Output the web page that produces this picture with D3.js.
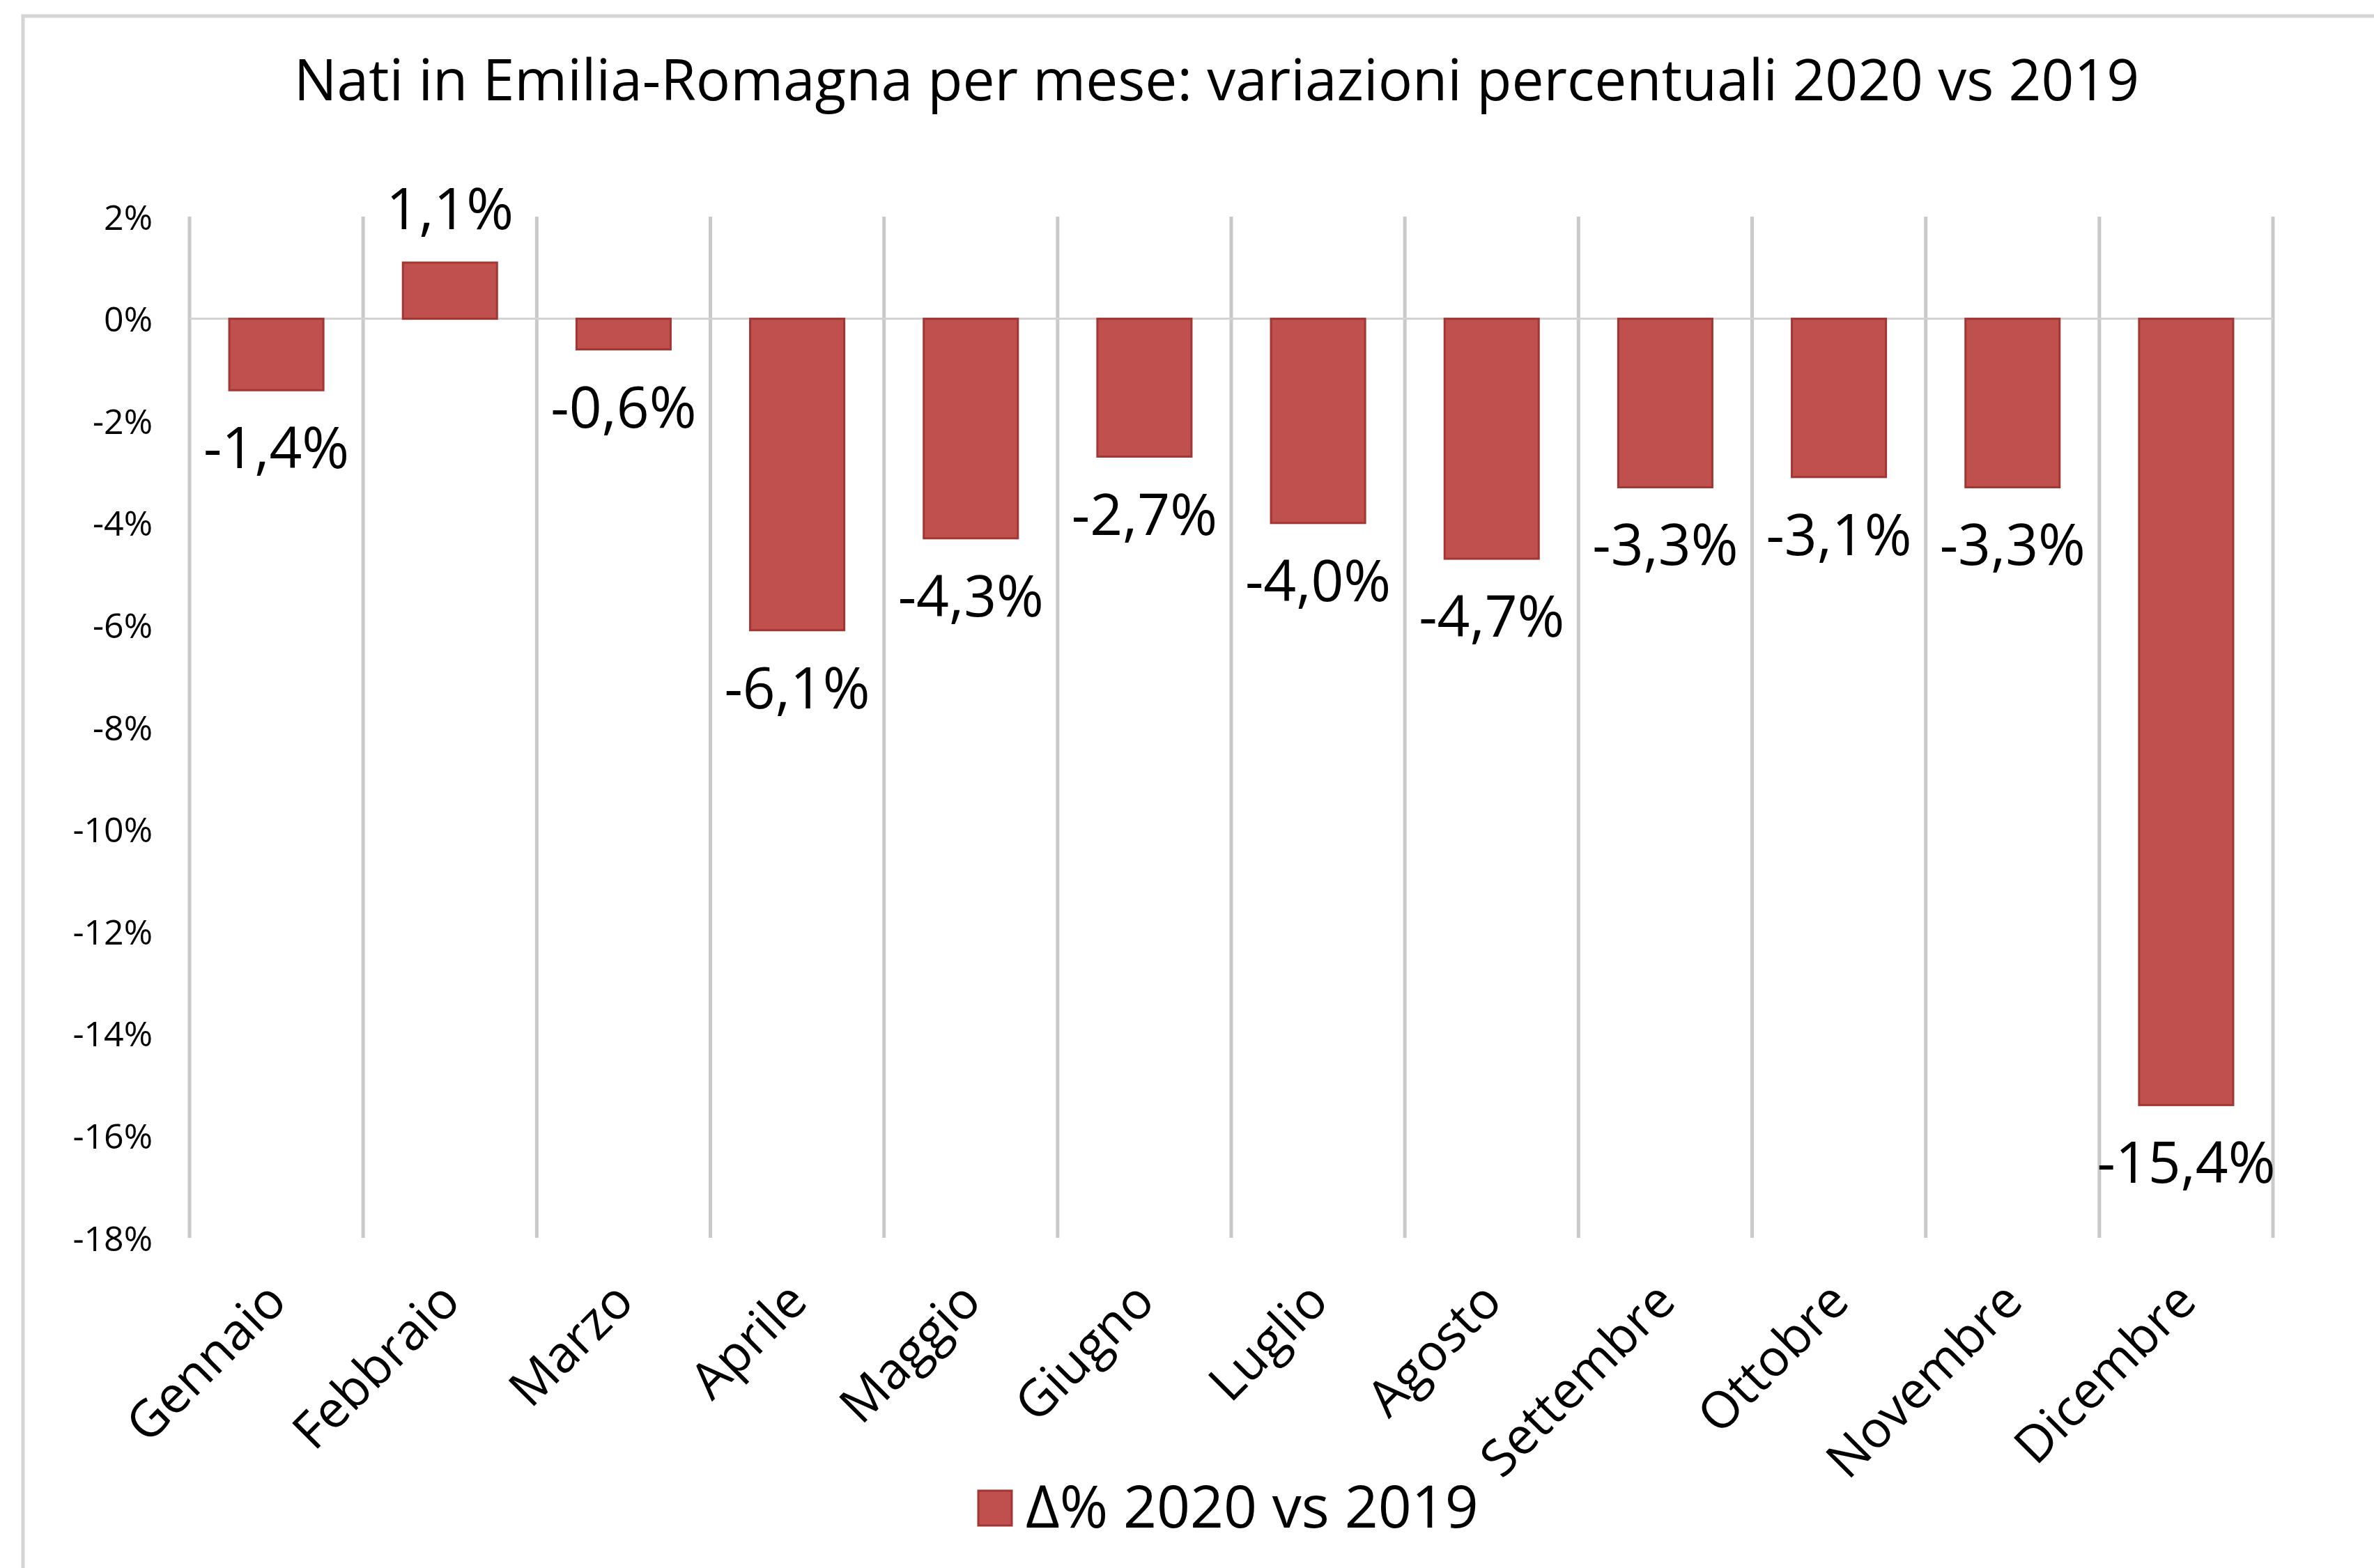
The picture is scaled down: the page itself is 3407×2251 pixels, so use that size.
<!DOCTYPE html>
<html>
<head>
<meta charset="utf-8">
<script src="https://cdn.jsdelivr.net/npm/d3@7"></script>
<style>
  html, body { margin: 0; padding: 0; background: #ffffff; }
  svg { display: block; }
  text { font-family: "Open Sans", "Noto Sans", sans-serif; fill: #000; }
</style>
</head>
<body>
<svg id="chart" width="3407" height="2251"></svg>
<script>
// ---- data ----
const months = ["Gennaio", "Febbraio", "Marzo", "Aprile", "Maggio", "Giugno",
                "Luglio", "Agosto", "Settembre", "Ottobre", "Novembre", "Dicembre"];
const deltaPct = [-1.4, 1.1, -0.6, -6.1, -4.3, -2.7, -4.0, -4.7, -3.3, -3.1, -3.3, -15.4];
const yTicks = [2, 0, -2, -4, -6, -8, -10, -12, -14, -16, -18];
const titleText = "Nati in Emilia-Romagna per mese: variazioni percentuali 2020 vs 2019";
const seriesName = "\u0394% 2020 vs 2019";

// ---- layout ----
const W = 3407, H = 2251;
const plot = { left: 272, right: 3262, top: 311, bottom: 1777 };
const barColor = "#c0504d", barStroke = "#a23633";

const svg = d3.select("#chart");

// outer chart frame (only top/left visible in the reference)
svg.append("rect")
  .attr("x", 33).attr("y", 23)
  .attr("width", W + 100).attr("height", H + 100)
  .attr("fill", "#ffffff")
  .attr("stroke", "#d4d4d4").attr("stroke-width", 5);

// title
svg.append("text")
  .attr("x", 1746).attr("y", 144)
  .attr("text-anchor", "middle")
  .style("font-size", "82px")
  .text(titleText);

// scales
const x = d3.scaleBand()
  .domain(months)
  .range([plot.left, plot.right])
  .paddingInner(0.458)
  .paddingOuter(0.229);

const y = d3.scaleLinear()
  .domain([-18, 2])
  .range([plot.bottom, plot.top]);

// vertical category separators
const boundaries = d3.range(months.length + 1).map(i => plot.left + i * (plot.right - plot.left) / months.length);
svg.append("g").selectAll("line")
  .data(boundaries)
  .join("line")
  .attr("x1", d => d).attr("x2", d => d)
  .attr("y1", y(2)).attr("y2", y(-18))
  .attr("stroke", "#c9c9c9").attr("stroke-width", 5);

// zero line
svg.append("line")
  .attr("x1", plot.left).attr("x2", plot.right)
  .attr("y1", y(0)).attr("y2", y(0))
  .attr("stroke", "#d3d3d3").attr("stroke-width", 3);

// y axis labels
const fmtTick = v => (v < 0 ? "-" : "") + Math.abs(v) + "%";
const yAxis = d3.axisLeft(y).tickValues(yTicks).tickFormat(fmtTick).tickSize(0).tickPadding(0);
const gy = svg.append("g").attr("transform", "translate(219,0)").call(yAxis);
gy.select(".domain").remove();
gy.selectAll("text")
  .attr("dy", "0.36em")
  .style("font-size", "50px")
  .style("font-family", "'Open Sans', sans-serif")
  .attr("fill", "#000");

// bars
svg.append("g").selectAll("rect")
  .data(months.map((m, i) => ({ m, v: deltaPct[i] })))
  .join("rect")
  .attr("x", d => x(d.m))
  .attr("width", x.bandwidth())
  .attr("y", d => Math.min(y(d.v), y(0)))
  .attr("height", d => Math.abs(y(d.v) - y(0)))
  .attr("fill", barColor)
  .attr("stroke", barStroke).attr("stroke-width", 3);

// data labels
const fmtVal = v => (v < 0 ? "-" : "") + Math.abs(v).toFixed(1).replace(".", ",") + "%";
svg.append("g").selectAll("text")
  .data(months.map((m, i) => ({ m, v: deltaPct[i] })))
  .join("text")
  .attr("x", d => x(d.m) + x.bandwidth() / 2)
  .attr("y", d => d.v < 0 ? y(d.v) + 112 : y(d.v) - 48)
  .attr("text-anchor", "middle")
  .style("font-size", "82px")
  .text(d => fmtVal(d.v));

// x labels rotated
svg.append("g").selectAll("text")
  .data(months)
  .join("text")
  .attr("transform", d => `translate(${x(d) + x.bandwidth() / 2 + 18},${1872}) rotate(-45)`)
  .attr("text-anchor", "end")
  .style("font-size", "73px")
  .text(d => d);

// legend
const lg = svg.append("g");
lg.append("rect")
  .attr("x", 1404).attr("y", 2140).attr("width", 48).attr("height", 50)
  .attr("fill", barColor).attr("stroke", barStroke).attr("stroke-width", 3);
lg.append("text")
  .attr("x", 1472).attr("y", 2193)
  .style("font-size", "84px")
  .text(seriesName);
</script>
</body>
</html>
